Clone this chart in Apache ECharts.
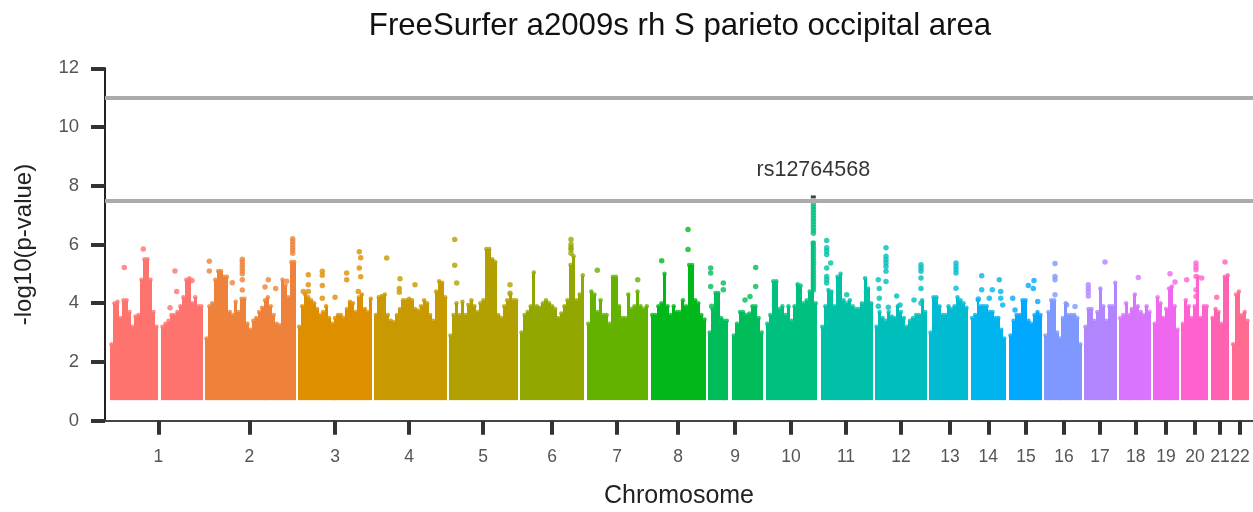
<!DOCTYPE html>
<html><head><meta charset="utf-8">
<script src="https://cdn.jsdelivr.net/npm/echarts@6/dist/echarts.min.js"></script>
<style>html,body{margin:0;padding:0;background:#fff}#c{width:1253px;height:512px}</style>
</head><body><div id="c"></div>
<script>
const chromosomes=['1','2','3','4','5','6','7','8','9','10','11','12','13','14','15','16','17','18','19','20','21','22'];
const chrTicks=[53.3,144.3,230,304,378,447,512,573,630,686,741,796,845,883.3,921,959,995,1030.7,1061,1090,1115,1135];
const thresholds=[11,7.5];
const yTicks=[0,2,4,6,8,10,12];
const floorValue=0.7;

// top of the dense band in equal-width columns, per chromosome block
const tops1a=[2.6,4.0,4.05,3.5,4.1,4.1,3.7,3.2,3.55,3.6,4.8,5.5,5.5,4.8,3.7,3.2];
const tops1b=[3.2,3.3,3.4,3.6,3.6,3.7,3.9,4.2,4.8,4.85,4.0,4.2,3.9,3.9];
const tops2=[2.8,3.9,4.0,4.8,5.1,5.1,4.9,4.9,3.7,3.6,4.05,3.7,4.15,4.15,3.3,3.1,3.4,3.5,3.7,3.85,4.1,4.2,3.9,3.6,3.3,3.25,4.8,4.6,4.2,5.4,5.4];
const tops3=[3.2,3.9,4.3,4.2,4.1,4.0,3.8,3.6,3.7,3.9,3.5,3.3,3.5,3.6,3.6,3.5,3.8,4.05,4.0,3.7,4.2,4.3,3.8,3.7,4.15];
const tops4=[3.6,4.2,4.25,4.3,3.6,3.4,3.35,3.6,3.8,4.1,4.1,4.15,4.1,3.8,3.75,3.9,4.1,4.0,3.6,3.4,4.4,4.75,4.7,4.2];
const tops5=[2.9,3.6,4.0,3.6,4.05,3.6,3.95,4.1,3.9,3.7,4.0,4.1,5.85,5.85,5.5,5.4,3.6,3.5,3.9,4.1,4.3,4.1,4.1];
const tops6=[3.0,3.6,3.7,3.9,5.05,3.9,3.85,4.0,4.1,4.0,3.9,3.8,3.5,3.65,3.9,4.1,5.3,5.6,4.1,4.3,4.95];
const tops7=[3.3,4.4,4.3,3.7,4.1,3.6,3.6,3.3,4.9,4.9,3.9,3.5,3.5,4.3,3.8,3.9,4.4,3.9,3.8,3.9];
const tops8=[3.6,3.6,3.9,4.0,5.0,3.9,3.6,3.9,3.7,3.7,4.1,3.9,5.3,5.3,4.1,4.0,3.6,3.45];
const tops9a=[3.0,3.8,4.35,4.35,3.5,3.4,3.4];
const tops9b=[2.9,3.3,3.7,3.7,3.6,3.65,3.9,3.9,3.5,3.0];
const tops10=[3.3,3.6,4.75,4.75,3.8,3.9,3.6,3.9,3.4,3.9,4.65,4.6,4.0,4.1,4.4,6.05,4.0];
const tops11=[3.2,3.9,4.45,4.4,3.9,4.9,5.0,4.1,4.0,4.1,3.9,3.8,3.8,4.0,4.85,4.5,4.0];
const tops12=[3.2,3.7,3.5,3.4,3.7,3.55,3.5,3.9,3.7,3.5,3.2,3.4,3.5,3.6,3.6,4.1,3.7];
const tops13=[3.0,4.2,4.2,3.9,3.6,3.6,3.9,3.8,3.9,4.2,4.1,4.0,3.85];
const tops14=[3.5,3.6,4.1,3.9,3.9,3.9,3.7,3.7,3.5,3.5,3.1,2.8];
const tops15=[2.9,3.4,3.6,3.6,4.1,4.1,3.4,3.3,3.6,3.7,3.6];
const tops16=[2.9,3.7,4.1,4.1,3.0,2.8,3.5,4.0,3.6,3.6,3.6,3.5,2.6];
const tops17=[3.2,3.8,3.8,3.4,3.7,4.5,3.9,3.4,3.9,3.9,4.7];
const tops18=[3.5,3.6,4.0,3.6,3.8,4.3,3.9,3.7,3.6,3.9,3.7];
const tops19=[3.3,4.2,4.0,3.5,3.8,4.5,4.57,3.9,3.1];
const tops20=[3.3,4.1,3.9,3.5,3.9,4.9,3.5,3.9,3.9];
const tops21=[3.5,3.8,3.7,3.3,4.9,4.95];
const tops22=[2.6,4.3,4.4,3.6,3.7,3.4];

// isolated points above the band: [position, -log10(p)]
const lone1=[[19.3,5.22],[38.3,5.85],[70,5.1],[87,4.77],[71.7,4.4],[65,3.85]];
const lone2=[[104.3,5.43],[104.3,5.1],[127.3,4.7],[187.7,6.2],[187.7,6.1],[187.7,6.0],[187.7,5.9],[187.7,5.8],[187.7,5.7],[137.3,5.5],[137.3,5.4],[137.3,5.3],[137.3,5.2],[137.3,5.1],[137.3,5.0],[137.3,4.8],[137.3,4.45],[163.3,4.8],[160,4.55],[170.7,4.5],[181.7,4.75]];
const lone3=[[203.3,4.97],[203.3,4.63],[203.3,4.4],[217.3,5.09],[217.3,4.95],[217.3,4.6],[217.3,4.17],[230,4.2],[254.3,5.75],[255.7,5.55],[254.3,5.2],[255.7,4.9],[241.7,5.03],[241.7,4.8],[253.3,4.4],[198.3,4.4]];
const lone4=[[281.7,5.54],[295,4.83],[294.3,4.5],[294.3,4.37],[310,4.63]];
const lone5=[[349.7,6.17],[349.7,5.29],[351.7,4.69],[405,4.63],[405,4.34]];
const lone6=[[466,6.17],[466,6.0],[466,5.9],[466,5.83],[466,5.7]];
const lone7=[[492.3,5.12],[532.7,4.8]];
const lone8=[[583,6.51],[583,5.83],[556.7,5.45]];
const lone9=[[605.7,5.2],[605.7,5.03],[605.7,4.57],[618.3,4.69],[618.3,4.46],[606.7,3.9],[650.7,5.22],[650.7,4.57],[645,4.23],[640,4.11]];
const lone10=[[708.4,7.38],[708.4,7.28],[708.4,7.18],[708.4,7.08],[708.4,6.98],[708.4,6.88],[708.4,6.78],[708.4,6.68],[708.4,6.58],[708.4,6.48],[708.4,6.38],[708.4,6.05],[708.4,5.95],[708.4,5.85],[708.4,5.75],[708.4,5.65],[708.4,5.55],[708.4,5.45],[708.4,5.35],[708.4,5.25],[708.4,5.15],[708.4,5.05],[708.4,4.95],[708.4,4.85],[708.4,4.75],[708.4,4.65],[708.4,4.55],[708.4,4.45]];
const lone11=[[721.7,6.14],[721.7,5.89],[721.7,5.78],[721.7,5.66],[721.7,5.2],[721.7,4.91],[721.7,4.8],[721.7,4.69],[725.7,5.37],[741.7,4.29]];
const lone12=[[781,5.89],[781,5.6],[781,5.48],[781,5.37],[781,5.25],[781,5.09],[781,4.74],[773.3,4.8],[774.3,4.5],[774.3,4.17],[773.3,3.9],[791.7,4.25],[783.3,3.86],[795,3.94],[809,4.11],[816,5.31],[816,5.2],[816,5.09],[816,4.86],[816,4.5],[816,4.0]];
const lone13=[[851,5.37],[851,5.25],[851,5.14],[851,5.03],[851,4.51]];
const lone14=[[876.7,4.94],[876.7,4.46],[887.3,4.46],[884.3,4.17],[873.3,4.14],[894.3,4.8],[895.7,4.4],[895.7,4.17],[897.7,3.94]];
const lone15=[[907.7,4.17],[923.3,4.6],[928.3,4.5],[929,4.77],[932.7,4.06],[910,3.77]];
const lone16=[[950,5.35],[950,4.91],[950,4.8],[950,4.29],[961.7,3.94],[970,3.89]];
const lone17=[[1000,5.4],[983.3,4.63],[983.3,4.5],[983.3,4.38],[983.3,4.25]];
const lone18=[[1033.3,4.88]];
const lone19=[[1065,5.0],[1070,4.72]];
const lone20=[[1091,5.37],[1091,5.25],[1091,5.14],[1091,4.91],[1091,4.46],[1091,4.23],[1081.7,4.8],[1096.7,4.86]];
const lone21=[[1120,5.4],[1111.7,4.2]];
const lone22=[];
const lonePoints=[lone1,lone2,lone3,lone4,lone5,lone6,lone7,lone8,lone9,lone10,lone11,lone12,lone13,lone14,lone15,lone16,lone17,lone18,lone19,lone20,lone21,lone22];

const topSnp=[[708.3,7.62,'rs12764568']];

// [chromosome index, start position, end position, column tops]
const blocks=[
 [0,5,53,tops1a],[0,56,97.7,tops1b],[1,100,190.7,tops2],[2,192.7,267.3,tops3],[3,269.3,341.7,tops4],
 [4,344,412.7,tops5],[5,415,479.3,tops6],[6,481.7,543.3,tops7],[7,545.7,601,tops8],[8,603.3,623.3,tops9a],
 [8,627.3,658.3,tops9b],[9,660.7,712.3,tops10],[10,715.7,767.7,tops11],[11,770,821.7,tops12],[12,824,863,tops13],
 [13,865.7,900.7,tops14],[14,904,937,tops15],[15,939,976.7,tops16],[16,979,1011.7,tops17],[17,1013.7,1046,tops18],
 [18,1048.3,1074,tops19],[19,1076.3,1103.3,tops20],[20,1106,1124.3,tops21],[21,1126.7,1144,tops22]
];
const palette=['#FF736F','#EE823A','#DE8F00','#C89900','#B1A000','#92A800','#63B200','#00B81A','#00BC59','#00C080','#00C0A8','#00BEBC','#00BBD2','#00B4EE','#00A8FF','#7F98FF','#B285FF','#D775FF','#EE67EE','#FF61CF','#FF62B0','#FF6A90'];

const series=[];
series.push({type:'line',data:[],silent:true,markLine:{silent:true,symbol:'none',animation:false,label:{show:false},
  lineStyle:{color:'#ababab',width:4,type:'solid'},data:thresholds.map(v=>({yAxis:v}))}});
blocks.forEach(([chr,start,end,tops])=>{
  const w=(end-start)/tops.length;
  series.push({type:'custom',silent:true,animation:false,clip:false,
    data:tops.map((t,i)=>[start+i*w,start+(i+1)*w,t]),
    renderItem:(p,api)=>{
      const a=api.coord([api.value(0),api.value(2)]);
      const b=api.coord([api.value(1),floorValue]);
      const x0=Math.round(a[0]),x1=Math.round(b[0]);
      return {type:'rect',shape:{x:x0,y:a[1],width:x1-x0,height:b[1]-a[1]},style:{fill:palette[chr]}};
    },
    encode:{x:[0,1],y:2}});
  // rounded cap of points on each column, as the dense point cloud has
  series.push({type:'scatter',silent:true,animation:false,symbol:'circle',symbolSize:4.5,
    data:tops.map((t,i)=>[start+(i+0.5)*w,t]),itemStyle:{color:palette[chr]}});
});
lonePoints.forEach((pts,chr)=>{
  series.push({type:'scatter',silent:true,animation:false,symbol:'circle',symbolSize:5.5,data:pts,
    itemStyle:{color:palette[chr]}});
});
series.push({type:'scatter',silent:true,animation:false,symbol:'rect',symbolSize:[5,3],data:topSnp,
  itemStyle:{color:'#111'},
  label:{show:true,position:'top',distance:14,formatter:p=>p.data[2],color:'#000',fontSize:21.5,fontFamily:'Liberation Sans'}});

const chart=echarts.init(document.getElementById('c'),null,{renderer:'canvas'});
chart.setOption({
  animation:false,backgroundColor:'#fff',
  title:{text:'FreeSurfer a2009s rh S parieto occipital area',left:675,top:6,textAlign:'center',
    textStyle:{fontFamily:'Liberation Sans',fontSize:31.2,fontWeight:'normal',color:'#111'}},
  grid:{left:105,right:0,top:68.3,bottom:91.3,outerBoundsMode:'none',containLabel:false},
  xAxis:{type:'value',min:0,max:1148,splitLine:{show:false},
    name:'Chromosome',nameLocation:'middle',nameGap:63,
    nameTextStyle:{fontFamily:'Liberation Sans',fontSize:25,color:'#222'},
    axisLine:{show:true,lineStyle:{color:'#444',width:2}},
    axisTick:{show:true,length:14,customValues:chrTicks,lineStyle:{color:'#333',width:4}},
    axisLabel:{show:true,customValues:chrTicks,margin:27,hideOverlap:false,
      fontFamily:'Liberation Sans',fontSize:17.5,color:'#555',
      formatter:v=>chromosomes[chrTicks.indexOf(v)]||''}},
  yAxis:{type:'value',min:0,max:12,interval:2,splitLine:{show:false},
    name:'-log10(p-value)',nameLocation:'middle',nameGap:69,
    nameTextStyle:{fontFamily:'Liberation Sans',fontSize:24,color:'#222'},
    axisLine:{show:true,onZero:false,lineStyle:{color:'#222',width:2}},
    axisTick:{show:true,length:14,lineStyle:{color:'#333',width:4}},
    axisLabel:{margin:26,fontFamily:'Liberation Sans',fontSize:18.5,color:'#555',
      formatter:v=>yTicks.includes(v)?String(v):''}},
  series
});
</script></body></html>
